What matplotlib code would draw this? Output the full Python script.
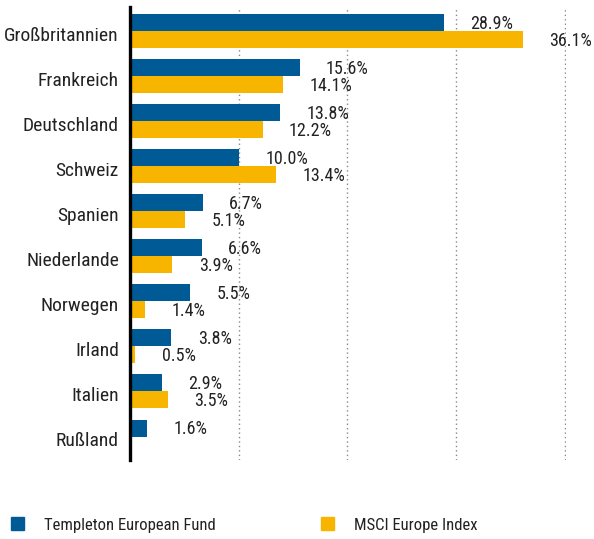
import numpy as np
import matplotlib.pyplot as plt
import matplotlib.transforms as mtransforms
from matplotlib.patches import Patch

countries = ["Großbritannien", "Frankreich", "Deutschland", "Schweiz", "Spanien",
             "Niederlande", "Norwegen", "Irland", "Italien", "Rußland"]
fund = [28.9, 15.6, 13.8, 10.0, 6.7, 6.6, 5.5, 3.8, 2.9, 1.6]
index = [36.1, 14.1, 12.2, 13.4, 5.1, 3.9, 1.4, 0.5, 3.5, np.nan]
series_names = ["Templeton European Fund", "MSCI Europe Index"]

BLUE = "#005a96"
YELLOW = "#f7b500"
TEXT = "#222222"

plt.rcParams["font.family"] = ["Roboto Condensed", "DejaVu Sans"]
plt.rcParams["font.stretch"] = "condensed"

fig = plt.figure(figsize=(5.94, 5.39), dpi=100)
ax = fig.add_axes([130 / 594, 1 - 460 / 539, 436 / 594, 453 / 539])

y = np.arange(len(countries))
h = 0.377
ax.barh(y - h / 2, fund, height=h, color=BLUE, zorder=3)
ax.barh(y + h / 2, index, height=h, color=YELLOW, zorder=3)

# value labels sit a fixed distance right of each bar end
for yi, v in zip(y - h / 2, fund):
    ax.annotate(f"{v:.1f}%", (v, yi), xytext=(19, -1), textcoords="offset points",
                va="center", ha="left", fontsize=13, color=TEXT)
for yi, v in zip(y + h / 2, index):
    if np.isnan(v):
        continue
    ax.annotate(f"{v:.1f}%", (v, yi), xytext=(19, -1), textcoords="offset points",
                va="center", ha="left", fontsize=13, color=TEXT, annotation_clip=False)

ax.set_xlim(0, 40.1)
ax.set_ylim(len(countries) - 0.48, -0.53)
ax.set_yticks(y)
ax.set_yticklabels(countries, fontsize=14, color=TEXT)
ax.set_xticks([10, 20, 30, 40])
ax.tick_params(axis="x", length=0, labelbottom=False)
ax.tick_params(axis="y", length=0, pad=8)
ax.grid(axis="x", color="#888888", linestyle=(0, (1, 2.2)), linewidth=1, zorder=0)

# country names sit a little below the pair centre in the original
shift = mtransforms.ScaledTranslation(0, -2 / 72, fig.dpi_scale_trans)
for lab in ax.get_yticklabels():
    lab.set_transform(lab.get_transform() + shift)

for s in ["top", "right", "bottom"]:
    ax.spines[s].set_visible(False)
ax.spines["left"].set_linewidth(2.4)
ax.spines["left"].set_color("black")
ax.spines["left"].set_zorder(4)

for name, color, xpos in [(series_names[0], BLUE, 11 / 594), (series_names[1], YELLOW, 321 / 594)]:
    fig.legend(handles=[Patch(color=color, label=name)], loc="center left",
               bbox_to_anchor=(xpos, 1 - 525 / 539), frameon=False, fontsize=12,
               handlelength=0.8, handleheight=0.8, handletextpad=1.15,
               borderpad=0, borderaxespad=0, labelcolor=TEXT)

fig.savefig("out.png", dpi=100)
